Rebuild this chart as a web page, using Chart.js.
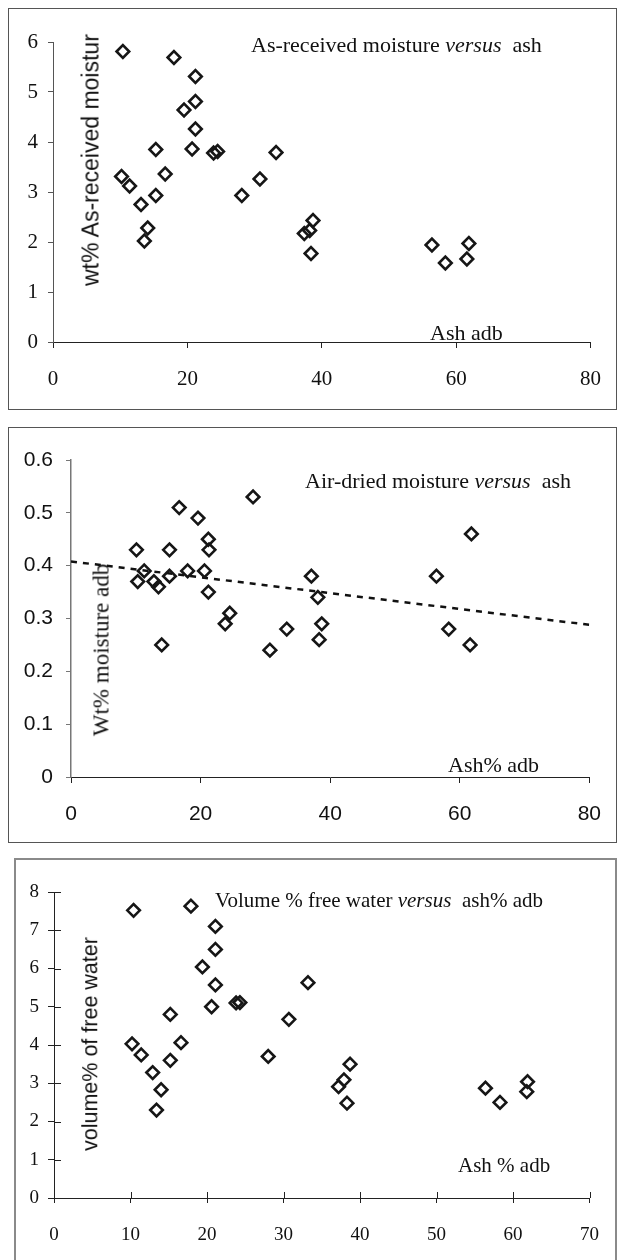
<!DOCTYPE html>
<html>
<head>
<meta charset="utf-8">
<script src="https://cdn.jsdelivr.net/npm/chart.js@4.4.1/dist/chart.umd.min.js"></script>
<style>
  html, body { margin: 0; padding: 0; background: #fff; }
  body { position: relative; width: 620px; height: 1260px; overflow: hidden; }
  .box { position: absolute; box-sizing: border-box; border: 1px solid #555; }
  canvas { position: absolute; left: 0; }
  .txt { position: absolute; white-space: nowrap; line-height: 1; color: #111; transform: translateY(-50%); }
  .serif { font-family: 'Liberation Serif', 'Times New Roman', serif; }
  .sans { font-family: 'Liberation Sans', Arial, sans-serif; }
  .rot { transform: translate(-50%, -50%) rotate(-90deg); }
</style>
</head>
<body>
<div class="box" style="left:8px;top:8px;width:609px;height:402px"></div>
<div class="box" style="left:8px;top:427px;width:609px;height:416px"></div>
<div class="box" style="left:14px;top:858px;width:603px;height:420px;border:2px solid #8a8a8a"></div>

<canvas id="c1" width="620" height="420" style="top:0"></canvas>
<canvas id="c2" width="620" height="430" style="top:420px"></canvas>
<canvas id="c3" width="620" height="410" style="top:850px"></canvas>

<div class="txt serif" style="left:251px;top:45px;font-size:22px">As-received moisture <i>versus</i>&nbsp; ash</div>
<div class="txt serif" style="left:430px;top:333px;font-size:22px">Ash adb</div>
<div class="txt sans rot" style="left:91px;top:160px;font-size:23px">wt% As-received moistur</div>

<div class="txt serif" style="left:305px;top:481px;font-size:22px">Air-dried moisture <i>versus</i>&nbsp; ash</div>
<div class="txt serif" style="left:448px;top:765px;font-size:22px">Ash% adb</div>
<div class="txt serif rot" style="left:101px;top:650px;font-size:23px">Wt% moisture adb</div>

<div class="txt serif" style="left:215px;top:900px;font-size:21px">Volume % free water <i>versus</i>&nbsp; ash% adb</div>
<div class="txt serif" style="left:458px;top:1165px;font-size:21px">Ash % adb</div>
<div class="txt sans rot" style="left:91px;top:1044px;font-size:21.5px">volume% of free water</div>

<script>
// 패널 1: as-received moisture vs ash
var ash1 = [10.4, 18.0, 21.2, 21.2, 19.5, 21.2, 20.7, 15.3, 23.9, 24.5, 33.2, 10.2, 11.4, 16.7, 30.8, 28.1, 15.3, 13.1, 14.1, 13.6, 38.7, 37.4, 38.2, 38.4, 56.4, 58.4, 61.9, 61.6];
var arMoist = [5.81, 5.69, 5.31, 4.81, 4.64, 4.26, 3.86, 3.85, 3.78, 3.81, 3.79, 3.31, 3.12, 3.36, 3.26, 2.93, 2.93, 2.75, 2.28, 2.02, 2.43, 2.17, 2.23, 1.77, 1.94, 1.58, 1.97, 1.66];
var xTicks1 = [0, 20, 40, 60, 80];
var yTicks1 = [0, 1, 2, 3, 4, 5, 6];

// 패널 2: air-dried moisture vs ash (+ 추세선)
var ash2 = [10.1, 10.3, 11.3, 12.8, 13.5, 14.0, 15.2, 15.2, 16.7, 18.0, 19.6, 20.6, 21.2, 21.3, 21.2, 23.8, 24.5, 28.1, 30.7, 33.3, 37.1, 38.1, 38.7, 38.3, 56.4, 58.3, 61.8, 61.6];
var adMoist = [0.43, 0.37, 0.39, 0.37, 0.36, 0.25, 0.43, 0.38, 0.51, 0.39, 0.49, 0.39, 0.45, 0.43, 0.35, 0.29, 0.31, 0.53, 0.24, 0.28, 0.38, 0.34, 0.29, 0.26, 0.38, 0.28, 0.46, 0.25];
var trendAsh = [0, 80];
var trendMoist = [0.408, 0.288];
var xTicks2 = [0, 20, 40, 60, 80];
var yTicks2 = [0, 0.1, 0.2, 0.3, 0.4, 0.5, 0.6];

// 패널 3: volume % free water vs ash
var ash3 = [10.4, 17.9, 21.1, 21.1, 19.4, 21.1, 20.6, 23.8, 24.3, 33.2, 30.7, 15.2, 16.6, 10.2, 11.4, 15.2, 28.0, 12.9, 14.0, 13.4, 38.7, 37.9, 37.2, 38.3, 56.4, 58.3, 61.9, 61.8];
var freeWater = [7.52, 7.63, 7.10, 6.50, 6.04, 5.57, 5.00, 5.10, 5.11, 5.63, 4.67, 4.80, 4.06, 4.03, 3.74, 3.60, 3.70, 3.28, 2.83, 2.30, 3.50, 3.09, 2.91, 2.48, 2.87, 2.50, 3.04, 2.78];
var xTicks3 = [0, 10, 20, 30, 40, 50, 60, 70];
var yTicks3 = [0, 1, 2, 3, 4, 5, 6, 7, 8];

var SERIF = "'Liberation Serif', 'Times New Roman', serif";
var SANS = "'Liberation Sans', Arial, sans-serif";

function toPoints(xs, ys) {
    return xs.map(function (x, i) { return { x: x, y: ys[i] }; });
}

// 축 옵션 만들기
function axis(o) {
    return {
        type: 'linear',
        min: o.ticks[0],
        max: o.ticks[o.ticks.length - 1],
        afterBuildTicks: function (s) { s.ticks = o.ticks.map(function (v) { return { value: v }; }); },
        afterFit: function (s) { if (o.w) s.width = o.w; if (o.h) s.height = o.h; },
        grid: { display: true, drawOnChartArea: false, drawTicks: true, tickLength: o.tl, color: o.color || '#222' },
        border: { display: true, color: o.color || '#222', width: o.bw || 1 },
        ticks: { padding: o.pad, color: '#111', font: { family: o.font, size: o.size } }
    };
}

var diamond = {
    pointStyle: 'rectRot',
    pointRadius: 6.3,
    pointHoverRadius: 6.3,
    pointBorderWidth: 2.6,
    pointBorderColor: '#161616',
    pointBackgroundColor: 'rgba(0,0,0,0)',
    showLine: false
};

function common(pad, scales) {
    return {
        responsive: false,
        animation: false,
        events: [],
        layout: { padding: pad },
        plugins: { legend: { display: false }, tooltip: { enabled: false } },
        scales: scales
    };
}

// 패널 3은 눈금이 축을 가로지름
var crossTicks = {
    id: 'crossTicks',
    afterDraw: function (chart) {
        var ctx = chart.ctx, xs = chart.scales.x, ys = chart.scales.y, a = chart.chartArea;
        ctx.save();
        ctx.strokeStyle = '#222';
        ctx.lineWidth = 1;
        ctx.beginPath();
        xs.ticks.forEach(function (t) {
            var px = Math.round(xs.getPixelForValue(t.value)) + 0.5;
            ctx.moveTo(px, a.bottom);
            ctx.lineTo(px, a.bottom - 6);
        });
        ys.ticks.forEach(function (t) {
            var py = Math.round(ys.getPixelForValue(t.value)) + 0.5;
            ctx.moveTo(a.left, py);
            ctx.lineTo(a.left + 7, py);
        });
        ctx.stroke();
        ctx.restore();
    }
};

new Chart(document.getElementById('c1'), {
    type: 'scatter',
    data: { datasets: [Object.assign({ data: toPoints(ash1, arMoist) }, diamond)] },
    options: common({ left: 0, right: 18, top: 42, bottom: 0 }, {
        x: axis({ ticks: xTicks1, h: 78, tl: 6, pad: 19, font: SERIF, size: 21 }),
        y: axis({ ticks: yTicks1, w: 53, tl: 5, pad: 10, font: SERIF, size: 21, color: '#555' })
    })
});

new Chart(document.getElementById('c2'), {
    type: 'scatter',
    data: {
        datasets: [
            Object.assign({ data: toPoints(ash2, adMoist) }, diamond),
            {
                data: toPoints(trendAsh, trendMoist),
                showLine: true,
                borderColor: '#111',
                borderWidth: 2.5,
                borderDash: [6, 6],
                pointRadius: 0,
                pointHoverRadius: 0,
                fill: false
            }
        ]
    },
    options: common({ left: 0, right: 20, top: 40, bottom: 0 }, {
        x: axis({ ticks: xTicks2, h: 73, tl: 6, pad: 19, font: SANS, size: 21 }),
        y: axis({ ticks: yTicks2, w: 71, tl: 5, pad: 13, font: SANS, size: 21, color: '#777', bw: 1.5 })
    })
});

new Chart(document.getElementById('c3'), {
    type: 'scatter',
    data: { datasets: [Object.assign({ data: toPoints(ash3, freeWater) }, diamond)] },
    options: common({ left: 0, right: 23, top: 42, bottom: 0 }, {
        x: axis({ ticks: xTicks3, h: 62, tl: 5, pad: 21, font: SERIF, size: 19 }),
        y: axis({ ticks: yTicks3, w: 54, tl: 6, pad: 9, font: SERIF, size: 19 })
    }),
    plugins: [crossTicks]
});
</script>
</body>
</html>
